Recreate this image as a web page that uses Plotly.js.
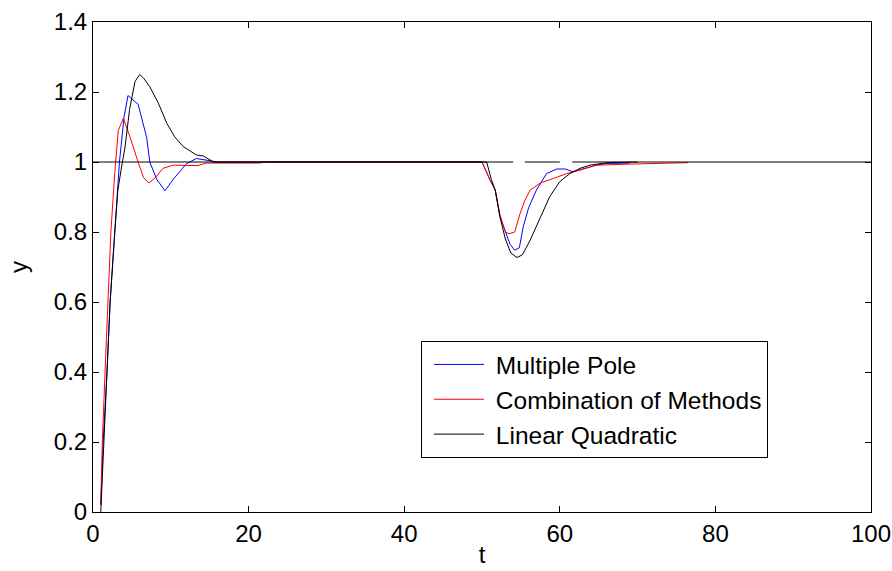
<!DOCTYPE html>
<html>
<head>
<meta charset="utf-8">
<script src="https://cdn.plot.ly/plotly-3.0.1.min.js"></script>
<style>
  html, body { margin: 0; padding: 0; background: #ffffff; }
  #chart { width: 892px; height: 571px; }
</style>
</head>
<body>
<div id="chart"></div>
<script>
// ---- Data ----
const seriesNames = ["Multiple Pole", "Combination of Methods", "Linear Quadratic"];

const mpT = [1, 1.3, 1.8, 2.2, 2.8, 3.4, 4.0, 4.5, 5.0, 5.8, 6.9, 7.3, 8.2, 9.25, 10.3, 11.2, 12.0, 13.3, 14.5, 16, 22,
             50.0, 51.0, 51.7, 52.3, 53.0, 53.6, 54.2, 54.8, 55.3, 56.0, 57.0, 58.3, 59.6, 60.7, 61.7, 63.0, 64.7, 66.0, 69.0];
const mpY = [0.02, 0.2, 0.4, 0.6, 0.8, 1.0, 1.13, 1.19, 1.18, 1.165, 1.07, 1.0, 0.95, 0.918, 0.95, 0.975, 0.995, 1.01, 1.005, 1.0, 1.0,
             1.0, 0.95, 0.92, 0.845, 0.8, 0.765, 0.748, 0.755, 0.815, 0.87, 0.92, 0.967, 0.98, 0.98, 0.972, 0.98, 0.991, 0.996, 0.997];

const cmT = [1, 1.2, 1.55, 1.9, 2.3, 2.8, 3.25, 3.9, 4.75, 5.8, 6.5, 7.2, 8.0, 9.0, 10.3, 12.0, 13.5, 14.6, 21.5, 22,
             50, 51.0, 51.7, 52.3, 53.0, 53.5, 54.2, 54.9, 55.5, 56.2, 57.5, 59.2, 60.9, 62.6, 64.7, 69.0, 76.5];
const cmY = [0.02, 0.2, 0.4, 0.6, 0.8, 0.97, 1.09, 1.125, 1.072, 1.0, 0.955, 0.94, 0.955, 0.982, 0.991, 0.99, 0.99, 0.997, 0.997, 1.0,
             1.0, 0.95, 0.92, 0.85, 0.8, 0.795, 0.8, 0.853, 0.89, 0.92, 0.94, 0.953, 0.967, 0.977, 0.991, 0.994, 0.998];

const lqT = [1, 1.4, 1.8, 2.2, 2.8, 3.2, 3.7, 4.1, 4.7, 5.4, 6.0, 6.5, 7.3, 8.4, 9.5, 10.5, 11.6, 13.3, 14.2, 15.0, 15.5,
             50.6, 51.2, 51.7, 52.3, 53.0, 53.7, 54.5, 55.2, 56.2, 57.5, 58.7, 60.0, 61.3, 62.6, 63.9, 66.0, 70.0];
const lqY = [0.0, 0.2, 0.4, 0.6, 0.8, 0.92, 0.99, 1.04, 1.15, 1.23, 1.25, 1.24, 1.215, 1.168, 1.11, 1.072, 1.044, 1.02, 1.017, 1.008, 1.0,
             1.0, 0.95, 0.92, 0.844, 0.78, 0.74, 0.727, 0.735, 0.777, 0.844, 0.901, 0.944, 0.967, 0.982, 0.991, 0.998, 1.0];

// set-point reference line (with the small gaps visible in the picture)
const refT = [0, 54.0, null, 55.5, 60.0, null, 61.6, 100];
const refY = [1, 1, null, 1, 1, null, 1, 1];

const xTicks = [0, 20, 40, 60, 80, 100];
const yTicks = [0, 0.2, 0.4, 0.6, 0.8, 1, 1.2, 1.4];
const yTickText = ["0", "0.2", "0.4", "0.6", "0.8", "1", "1.2", "1.4"];

// ---- Traces ----
const font = "Liberation Sans, Arial, Helvetica, sans-serif";
const pad = "\u00A0";
const traces = [
  { x: mpT, y: mpY, name: pad + seriesNames[0], type: "scatter", mode: "lines",
    line: { color: "#0000ff", width: 1 } },
  { x: cmT, y: cmY, name: pad + seriesNames[1], type: "scatter", mode: "lines",
    line: { color: "#ff0000", width: 1 } },
  { x: lqT, y: lqY, name: pad + seriesNames[2], type: "scatter", mode: "lines",
    line: { color: "#000000", width: 1 } },
  { x: refT, y: refY, name: "reference", type: "scatter", mode: "lines", showlegend: false,
    connectgaps: false, line: { color: "#000000", width: 1 }, hoverinfo: "skip" }
];

const layout = {
  width: 892, height: 571,
  paper_bgcolor: "#ffffff", plot_bgcolor: "#ffffff",
  margin: { l: 93, r: 21, t: 22, b: 59 },
  font: { family: font, size: 24, color: "#000000" },
  showlegend: true,
  xaxis: {
    range: [0, 100], tickvals: xTicks, ticktext: xTicks.map(String),
    ticks: "inside", ticklen: 6, tickcolor: "#000", tickwidth: 1,
    showline: true, linecolor: "#000", linewidth: 1, mirror: "ticks",
    showgrid: false, zeroline: false,
    tickfont: { family: font, size: 24, color: "#000" },
    title: { text: "t", font: { family: font, size: 24, color: "#000" }, standoff: 0 }
  },
  yaxis: {
    range: [0, 1.4], tickvals: yTicks, ticktext: yTickText,
    ticks: "inside", ticklen: 6, tickcolor: "#000", tickwidth: 1,
    showline: true, linecolor: "#000", linewidth: 1, mirror: "ticks",
    showgrid: false, zeroline: false,
    tickfont: { family: font, size: 24, color: "#000" },
    title: { text: "y", font: { family: font, size: 24, color: "#000" }, standoff: 19 }
  },
  legend: {
    x: 0.4216, y: 0.349, xanchor: "left", yanchor: "top",
    bgcolor: "#ffffff", bordercolor: "#000000", borderwidth: 1,
    font: { family: font, size: 24.5, color: "#000" },
    itemwidth: 50, indentation: 7, tracegroupgap: 0
  }
};

Plotly.newPlot("chart", traces, layout, { staticPlot: true, displayModeBar: false });
</script>
</body>
</html>
